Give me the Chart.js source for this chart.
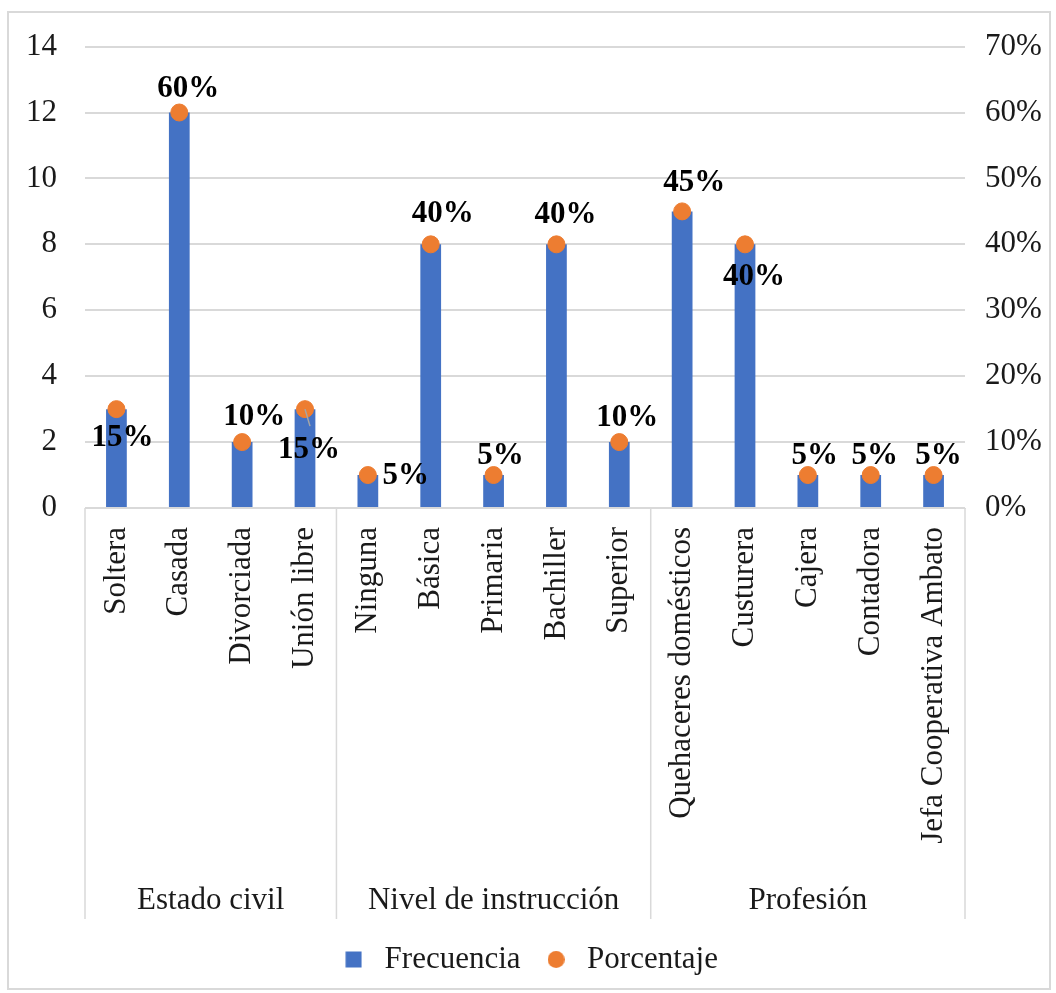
<!DOCTYPE html>
<html>
<head>
<meta charset="utf-8">
<script src="https://cdn.jsdelivr.net/npm/chart.js@4.4.0/dist/chart.umd.min.js"></script>
<style>
  body { margin: 0; background: #fff; }
  #wrap { width: 1056px; height: 993px; }
</style>
</head>
<body>
<div id="wrap"><canvas id="chart"></canvas></div>
<script>
// data
const categories = ['Soltera', 'Casada', 'Divorciada', 'Unión libre',
  'Ninguna', 'Básica', 'Primaria', 'Bachiller', 'Superior',
  'Quehaceres domésticos', 'Custurera', 'Cajera', 'Contadora', 'Jefa Cooperativa Ambato'];
const groups = ['Estado civil', 'Nivel de instrucción', 'Profesión'];
const groupSizes = [4, 5, 5];
const frecuencia = [3, 12, 2, 3, 1, 8, 1, 8, 2, 9, 8, 1, 1, 1];
const porcentaje = [0.15, 0.60, 0.10, 0.15, 0.05, 0.40, 0.05, 0.40, 0.10, 0.45, 0.40, 0.05, 0.05, 0.05];

// where each % label sits relative to its dot (Excel moved some by hand)
const labelNudge = [[6, 29], [9, -24], [12, -25], [4, 41], [38, 1], [12, -30], [7, -19],
  [9, -29], [8, -24], [12, -28], [9, 33], [7, -19], [4, -19], [5, -19]];

const FONT = 'Liberation Serif';
const GRID = '#D9D9D9';
const TXT = '#1a1a1a';
const BLUE = '#4472C4';
const ORANGE = '#ED7D31';

// little legend markers, same size as in the picture
function marker(kind, color) {
  const c = document.createElement('canvas');
  c.width = 17; c.height = 17;
  const g = c.getContext('2d');
  g.fillStyle = color;
  if (kind === 'rect') g.fillRect(0.5, 0.5, 16, 16);
  else { g.beginPath(); g.arc(8.5, 8.5, 8.5, 0, Math.PI * 2); g.fill(); }
  return c;
}
const blueBox = marker('rect', BLUE);
const orangeDot = marker('circle', ORANGE);

const extras = {
  id: 'extras',
  beforeDraw(chart) {
    const ctx = chart.ctx;
    ctx.save();
    ctx.strokeStyle = GRID;
    ctx.lineWidth = 2;
    ctx.strokeRect(8, 12, 1042, 977);
    ctx.restore();
  },
  afterDraw(chart) {
    const ctx = chart.ctx;
    const area = chart.chartArea;
    const step = (area.right - area.left) / categories.length;
    const bottom = area.bottom + 411;
    ctx.save();
    ctx.strokeStyle = GRID;
    ctx.lineWidth = 1.5;
    let idx = 0;
    const edges = [area.left];
    groupSizes.forEach(n => { idx += n; edges.push(area.left + idx * step); });
    edges.forEach(e => {
      ctx.beginPath();
      ctx.moveTo(e, area.bottom);
      ctx.lineTo(e, bottom);
      ctx.stroke();
    });
    ctx.fillStyle = TXT;
    ctx.font = '31px "' + FONT + '"';
    ctx.textAlign = 'center';
    ctx.textBaseline = 'middle';
    groups.forEach((g, i) => {
      ctx.fillText(g, (edges[i] + edges[i + 1]) / 2, area.bottom + 393);
    });
    ctx.restore();
  },
  afterDatasetsDraw(chart) {
    const ctx = chart.ctx;
    const meta = chart.getDatasetMeta(1);
    ctx.save();
    // leader line on Unión libre
    const p3 = meta.data[3];
    ctx.strokeStyle = '#A6A6A6';
    ctx.lineWidth = 1.5;
    ctx.beginPath();
    ctx.moveTo(p3.x, p3.y);
    ctx.lineTo(p3.x + 5, p3.y + 17);
    ctx.stroke();
    ctx.fillStyle = '#000';
    ctx.font = 'bold 31px "' + FONT + '"';
    ctx.textAlign = 'center';
    ctx.textBaseline = 'middle';
    meta.data.forEach((pt, i) => {
      const txt = Math.round(porcentaje[i] * 100) + '%';
      ctx.fillText(txt, pt.x + labelNudge[i][0], pt.y + labelNudge[i][1]);
    });
    ctx.restore();
  }
};

new Chart(document.getElementById('chart'), {
  data: {
    labels: categories,
    datasets: [
      {
        type: 'bar',
        label: 'Frecuencia',
        data: frecuencia,
        backgroundColor: BLUE,
        categoryPercentage: 1,
        barPercentage: 0.33,
        yAxisID: 'y',
        order: 1,
      },
      {
        type: 'line',
        label: 'Porcentaje',
        data: porcentaje,
        showLine: false,
        pointRadius: 8.5,
        pointBackgroundColor: ORANGE,
        pointBorderColor: ORANGE,
        backgroundColor: ORANGE,
        borderColor: ORANGE,
        pointStyle: 'circle',
        yAxisID: 'y1',
        order: 0,
      },
    ],
  },
  options: {
    responsive: true,
    maintainAspectRatio: false,
    animation: false,
    layout: { padding: { left: 10, right: 10, top: 39, bottom: 8 } },
    plugins: {
      tooltip: { enabled: false },
      legend: {
        position: 'bottom',
        labels: {
          usePointStyle: true,
          boxHeight: 17,
          padding: 20,
          color: TXT,
          font: { family: FONT, size: 31 },
          generateLabels(chart) {
            return chart.data.datasets.map((ds, i) => ({
              text: ds.label,
              fillStyle: i === 0 ? BLUE : ORANGE,
              strokeStyle: i === 0 ? BLUE : ORANGE,
              lineWidth: 0,
              pointStyle: i === 0 ? blueBox : orangeDot,
              datasetIndex: i,
              fontColor: TXT,
            }));
          },
        },
      },
    },
    scales: {
      x: {
        grid: { display: false },
        border: { color: GRID },
        ticks: {
          autoSkip: false,
          minRotation: 90,
          maxRotation: 90,
          padding: 11,
          color: TXT,
          font: { family: FONT, size: 31 },
        },
        afterFit(scale) { scale.height = 416; },
      },
      y: {
        position: 'left',
        min: 0,
        max: 14,
        border: { display: false },
        grid: { color: GRID, lineWidth: 2, drawTicks: false },
        ticks: {
          stepSize: 2,
          padding: 28,
          color: TXT,
          font: { family: FONT, size: 31 },
        },
        afterFit(scale) { scale.width = 75; },
      },
      y1: {
        position: 'right',
        min: 0,
        max: 0.7,
        border: { display: false },
        grid: { display: false, drawTicks: false },
        ticks: {
          stepSize: 0.1,
          padding: 20,
          color: TXT,
          font: { family: FONT, size: 31 },
          callback: v => Math.round(v * 100) + '%',
        },
        afterFit(scale) { scale.width = 81; },
      },
    },
  },
  plugins: [extras],
});
</script>
</body>
</html>
